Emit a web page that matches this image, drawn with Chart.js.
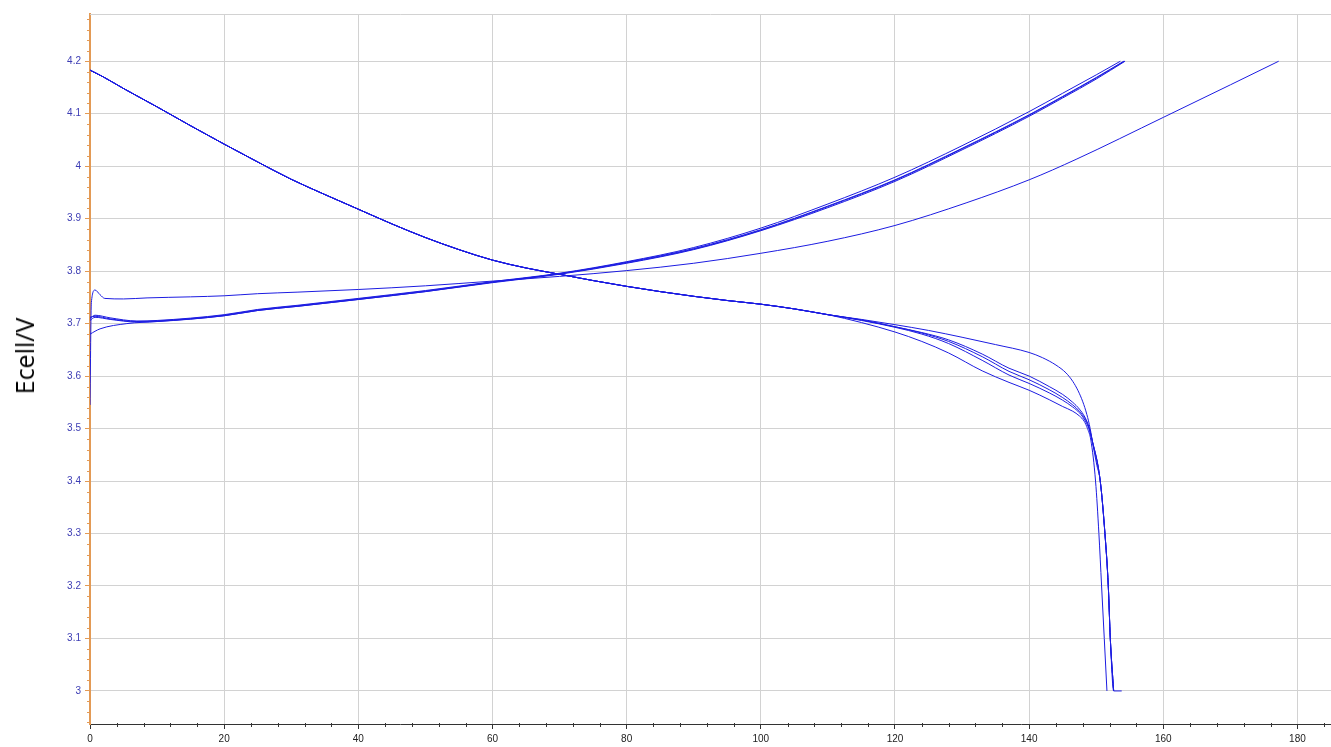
<!DOCTYPE html>
<html>
<head>
  <meta charset="UTF-8">
  <title>Ecell</title>
  <script src="https://cdn.jsdelivr.net/npm/chart.js"></script>
  <style>
    html, body {
      margin: 0;
      padding: 0;
      background: #ffffff;
      overflow: hidden;
    }
    #wrap {
      position: relative;
      width: 1331px;
      height: 747px;
    }
    #ytitle {
      position: absolute;
      left: 24px;
      top: 356px;
      transform: translate(-50%, -50%) rotate(-90deg);
      font-family: "Open Sans", "Noto Sans", sans-serif;
      font-size: 25px;
      color: #000;
      white-space: nowrap;
    }
  </style>
</head>
<body>
<div id="wrap">
  <canvas id="chart" width="1331" height="747"></canvas>
  <div id="ytitle">Ecell/V</div>
</div>

<script>
// tick labels
const xTicks = [0, 20, 40, 60, 80, 100, 120, 140, 160, 180];
const yTicks = [3, 3.1, 3.2, 3.3, 3.4, 3.5, 3.6, 3.7, 3.8, 3.9, 4, 4.1, 4.2];

// discharge curves: common part up to 110
const dHeadCap = [0, 2, 5, 10, 15, 20, 25, 30, 35, 40, 45, 50, 55, 60, 65, 70, 75, 80, 85, 90, 95, 100, 105, 110];
const dHeadV   = [4.183, 4.170, 4.148, 4.113, 4.077, 4.042, 4.008, 3.975, 3.946, 3.918, 3.890, 3.864, 3.841, 3.821, 3.806, 3.794, 3.782, 3.771, 3.761, 3.752, 3.744, 3.737, 3.728, 3.717];

// discharge tails
const d1Cap = [115, 120, 125, 130, 135, 140, 142, 144, 145.5, 146.5, 147.3, 148, 148.6, 149.1, 149.5, 150.1, 150.6, 151.3, 151.8, 152.1, 152.6, 153.8];
const d1V   = [3.708, 3.698, 3.687, 3.674, 3.660, 3.645, 3.635, 3.621, 3.606, 3.590, 3.572, 3.551, 3.527, 3.500, 3.470, 3.430, 3.40, 3.30, 3.20, 3.10, 3.00, 3.00];

const d2Cap = [115, 120, 124, 128, 133, 137, 140, 143, 145, 146.5, 147.5, 148.2, 148.7, 149.2, 149.9, 150.4, 150.8, 151.2, 151.6];
const d2V   = [3.702, 3.684, 3.666, 3.644, 3.610, 3.588, 3.573, 3.555, 3.542, 3.533, 3.524, 3.514, 3.500, 3.478, 3.40, 3.30, 3.20, 3.10, 3.00];

const dMidCap = [115, 120, 124, 128, 133, 137, 140, 143, 145, 146.5, 147.5, 148.3, 148.9, 149.4, 150.6, 151.3, 151.8, 152.1, 152.6];
const d3V = [3.707, 3.694, 3.683, 3.669, 3.642, 3.615, 3.600, 3.580, 3.565, 3.550, 3.537, 3.522, 3.504, 3.478, 3.40, 3.30, 3.20, 3.10, 3.00];
const d4V = [3.707, 3.694, 3.682, 3.666, 3.637, 3.609, 3.593, 3.574, 3.559, 3.545, 3.533, 3.519, 3.502, 3.478, 3.40, 3.30, 3.20, 3.10, 3.00];
const d5V = [3.706, 3.693, 3.680, 3.662, 3.630, 3.602, 3.586, 3.568, 3.554, 3.541, 3.530, 3.516, 3.500, 3.476, 3.40, 3.30, 3.20, 3.10, 3.00];

// charge curves
const c1Cap = [0, 0.2, 0.75, 1.5, 2.2, 5, 8.5, 15, 20, 25, 31, 40, 50, 60, 70, 80, 90, 100, 110, 120, 130.6, 140, 147, 160, 170, 177.2];
const c1V   = [3.545, 3.740, 3.764, 3.755, 3.748, 3.747, 3.749, 3.751, 3.753, 3.757, 3.760, 3.765, 3.772, 3.781, 3.790, 3.801, 3.815, 3.834, 3.857, 3.887, 3.930, 3.974, 4.013, 4.093, 4.155, 4.200];

const c2Cap = [0, 0.75, 3, 7, 10, 20, 25, 31, 40, 50, 60, 70, 80, 90, 100, 110, 120, 130, 140, 145, 150, 153.6];
const c2V   = [3.710, 3.716, 3.711, 3.705, 3.706, 3.717, 3.727, 3.735, 3.748, 3.763, 3.780, 3.796, 3.818, 3.845, 3.882, 3.928, 3.979, 4.039, 4.104, 4.139, 4.174, 4.200];

const c3Cap = [0, 0.75, 3, 7, 10, 20, 25, 31, 40, 50, 60, 70, 80, 90, 100, 110, 120, 130, 140, 145, 150, 154.2];
const c3V   = [3.712, 3.714, 3.709, 3.704, 3.705, 3.716, 3.726, 3.734, 3.747, 3.762, 3.779, 3.795, 3.816, 3.842, 3.878, 3.923, 3.973, 4.033, 4.097, 4.132, 4.168, 4.200];

const c4Cap = [0, 1.5, 5.5, 10, 20, 25, 31, 40, 50, 60, 70, 80, 90, 100, 110, 120, 130, 140, 145, 150, 154.3];
const c4V   = [3.680, 3.690, 3.700, 3.704, 3.715, 3.725, 3.733, 3.746, 3.761, 3.778, 3.794, 3.815, 3.841, 3.877, 3.921, 3.971, 4.031, 4.095, 4.130, 4.166, 4.200];

const c5Cap = [0, 0.75, 3, 7, 10, 20, 25, 31, 40, 50, 60, 70, 80, 90, 100, 110, 120, 130, 140, 145, 150, 154.1];
const c5V   = [3.706, 3.712, 3.708, 3.703, 3.704, 3.715, 3.725, 3.733, 3.746, 3.761, 3.779, 3.795, 3.817, 3.843, 3.879, 3.924, 3.974, 4.034, 4.098, 4.133, 4.169, 4.200];

const lineColor = "rgb(28,28,225)";

function pts(caps, volts) {
  return caps.map((c, i) => ({ x: c, y: volts[i] }));
}

function curve(caps, volts) {
  return {
    data: pts(caps, volts),
    borderColor: lineColor,
    borderWidth: 1,
    pointRadius: 0,
    showLine: true,
    fill: false,
    cubicInterpolationMode: "monotone"
  };
}

const datasets = [
  curve(dHeadCap.concat(d1Cap), dHeadV.concat(d1V)),
  curve(dHeadCap.concat(d2Cap), dHeadV.concat(d2V)),
  curve(dHeadCap.concat(dMidCap), dHeadV.concat(d3V)),
  curve(dHeadCap.concat(dMidCap), dHeadV.concat(d4V)),
  curve(dHeadCap.concat(dMidCap), dHeadV.concat(d5V)),
  curve(c1Cap, c1V),
  curve(c2Cap, c2V),
  curve(c3Cap, c3V),
  curve(c4Cap, c4V),
  curve(c5Cap, c5V)
];

// minor ticks + top border line
const minorTicks = {
  id: "minorTicks",
  afterDraw(chart) {
    const ctx = chart.ctx;
    const area = chart.chartArea;
    const xs = chart.scales.x;
    const ys = chart.scales.y;
    ctx.save();
    ctx.lineWidth = 1;

    // top border
    ctx.strokeStyle = "#d2d2d2";
    ctx.beginPath();
    ctx.moveTo(area.left, area.top + 0.5);
    ctx.lineTo(area.right, area.top + 0.5);
    ctx.stroke();

    // x minor ticks every 4
    ctx.strokeStyle = "#333";
    ctx.beginPath();
    for (let v = 4; v < xs.max; v += 4) {
      if (v % 20 === 0) continue;
      const px = Math.round(xs.getPixelForValue(v)) + 0.5;
      ctx.moveTo(px, area.bottom - 1);
      ctx.lineTo(px, area.bottom + 3);
    }
    ctx.stroke();

    // y minor ticks every 0.02
    ctx.strokeStyle = "#e39a55";
    ctx.beginPath();
    for (let k = 147; k <= 214; k++) {
      if (k % 5 === 0) continue;
      const v = k / 50;
      if (v < ys.min || v > ys.max) continue;
      const py = Math.round(ys.getPixelForValue(v)) + 0.5;
      ctx.moveTo(area.left - 3, py);
      ctx.lineTo(area.left, py);
    }
    ctx.stroke();
    ctx.restore();
  }
};

new Chart(document.getElementById("chart"), {
  type: "scatter",
  data: { datasets: datasets },
  plugins: [minorTicks],
  options: {
    responsive: false,
    animation: false,
    events: [],
    layout: { padding: { top: 14, right: 0, left: 0, bottom: 0 } },
    plugins: {
      legend: { display: false },
      tooltip: { enabled: false }
    },
    scales: {
      x: {
        type: "linear",
        min: 0,
        max: 185,
        afterBuildTicks: s => { s.ticks = xTicks.map(v => ({ value: v })); },
        afterFit: s => { s.height = 23; },
        grid: {
          color: "#d2d2d2",
          tickColor: "#333",
          tickLength: 5,
          lineWidth: 1
        },
        border: { color: "#333", width: 1 },
        ticks: {
          color: "#222",
          padding: 4,
          maxRotation: 0,
          font: { family: "Liberation Sans, Arial, sans-serif", size: 10 },
          callback: v => String(v)
        }
      },
      y: {
        type: "linear",
        min: 2.937,
        max: 4.29,
        afterBuildTicks: s => { s.ticks = yTicks.map(v => ({ value: v })); },
        afterFit: s => { s.width = 90; },
        grid: {
          color: "#d2d2d2",
          tickColor: "#e39a55",
          tickLength: 5,
          lineWidth: 1
        },
        border: { color: "#e39a55", width: 2 },
        ticks: {
          color: "#3c3cb4",
          padding: 4,
          font: { family: "Liberation Sans, Arial, sans-serif", size: 10 },
          callback: v => String(v)
        }
      }
    }
  }
});
</script>
</body>
</html>
